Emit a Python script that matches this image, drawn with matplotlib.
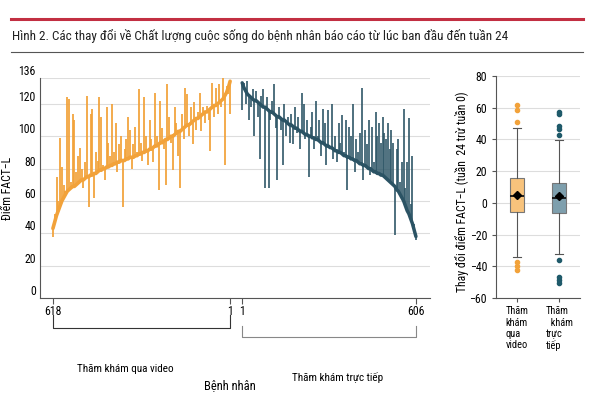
import numpy as np
import matplotlib.pyplot as plt
from matplotlib import font_manager
from matplotlib.lines import Line2D

# pick a condensed face if one is installed, else plain Liberation Sans
avail = {f.name for f in font_manager.fontManager.ttflist}
narrow = next((n for n in ['Liberation Sans Narrow', 'Roboto Condensed', 'Open Sans Condensed']
               if n in avail), None)
plt.rcParams['font.family'] = [narrow or 'Liberation Sans', 'DejaVu Sans']
k = 1.0 if narrow else 0.82   # shrink text a bit when no narrow face

# FACT-L scores, patients sorted by baseline (sampled along each group)
video_base = [43, 47, 51, 54, 57, 60, 62, 64, 66, 67,
              68, 69, 69, 70, 71, 72, 73, 73, 74, 75,
              75, 76, 76, 77, 77, 78, 79, 79, 80, 80,
              81, 81, 82, 82, 83, 83, 84, 84, 85, 85,
              85, 86, 86, 87, 87, 87, 88, 88, 89, 89,
              90, 90, 91, 91, 92, 92, 93, 94, 94, 95,
              96, 96, 97, 98, 98, 99, 100, 100, 101, 102,
              103, 103, 104, 105, 106, 107, 107, 108, 109, 110,
              111, 111, 112, 113, 114, 115, 115, 116, 117, 118,
              119, 119, 120, 121, 122, 123, 125, 127, 130, 134]
video_wk24 = [38, 52, 75, 60, 99, 81, 70, 66, 124, 123,
              72, 114, 110, 78, 88, 93, 80, 68, 84, 125,
              56, 114, 117, 62, 90, 85, 124, 112, 82, 73,
              118, 96, 88, 120, 90, 108, 78, 95, 100, 56,
              92, 98, 112, 104, 80, 95, 106, 90, 129, 96,
              85, 124, 100, 82, 110, 98, 84, 127, 100, 67,
              122, 105, 92, 70, 132, 112, 96, 79, 118, 108,
              88, 68, 114, 98, 130, 126, 100, 118, 95, 121,
              104, 115, 127, 103, 118, 108, 119, 110, 91, 133,
              112, 130, 114, 132, 118, 136, 82, 131, 126, 114]

direct_base = [133, 130, 128, 126, 125, 124, 123, 122, 122, 121,
               120, 119, 118, 118, 117, 116, 115, 115, 114, 113,
               112, 112, 111, 110, 110, 109, 108, 107, 107, 106,
               105, 105, 104, 103, 103, 102, 101, 101, 100, 100,
               99, 99, 98, 98, 97, 96, 96, 95, 94, 94,
               93, 93, 92, 91, 91, 90, 90, 89, 88, 88,
               87, 87, 86, 86, 85, 85, 84, 83, 83, 82,
               82, 81, 80, 80, 79, 78, 78, 77, 77, 76,
               76, 75, 74, 73, 72, 71, 70, 69, 67, 66,
               64, 62, 60, 57, 54, 52, 49, 46, 42, 38]
direct_wk24 = [116, 133, 120, 134, 110, 118, 129, 100, 128, 112,
               86, 125, 129, 68, 124, 68, 110, 122, 132, 105,
               73, 118, 104, 82, 120, 100, 112, 96, 114, 95,
               118, 102, 112, 92, 127, 120, 98, 110, 75, 106,
               115, 92, 122, 100, 110, 88, 117, 108, 82, 116,
               94, 120, 86, 100, 84, 108, 96, 113, 90, 110,
               67, 106, 100, 120, 78, 98, 90, 102, 130, 73,
               104, 95, 110, 76, 106, 84, 115, 100, 108, 96,
               112, 102, 98, 108, 92, 104, 96, 39, 92, 98,
               72, 84, 117, 68, 84, 111, 58, 88, 46, 36]

x_ticklabels = ['618', '1', '1', '606']

# change from week 0 to week 24 (box summary)
box_labels = ['Thăm\nkhám\nqua\nvideo', 'Thăm\n  khám\ntrực\ntiếp']
box_q1 = [-5.5, -6.5]
box_med = [4.3, 2.8]
box_q3 = [15.8, 12.5]
box_lo = [-34, -32]
box_hi = [47, 39.5]
box_mean = [5, 4.3]
video_fliers = [62, 58.5, 51, -37, -40, -42.5]
direct_fliers = [57.5, 56, 48.3, 46.5, 42.7, -36, -46.5, -48.5, -50.5]

orange = '#F2A23A'
teal = '#2B5364'

fig = plt.figure(figsize=(6, 4), dpi=100)

# header lines and title
fig.add_artist(Line2D([11/600, 583/600], [1 - 19/400] * 2, color='#C22F42', lw=2.2))
fig.add_artist(Line2D([11/600, 583/600], [1 - 52/400] * 2, color='#555555', lw=0.8))
fig.text(12/600, 1 - 36/400, 'Hình 2. Các thay đổi về Chất lượng cuộc sống do bệnh nhân báo cáo từ lúc ban đầu đến tuần 24',
         fontsize=9.5 * k, va='center', ha='left', color='#222222')

# ---- left panel: per-patient scores ----
ax = fig.add_axes([40/600, 1 - 298/400, 390/600, 220/400])
xv = np.linspace(0, 617, len(video_base))
xd = 659 + np.linspace(0, 605, len(direct_base))

ax.vlines(xv, video_base, video_wk24, color=orange, lw=1.4, alpha=0.9)
ax.plot(xv, video_base, color=orange, lw=2.6, solid_capstyle='round')
ax.vlines(xd, direct_base, direct_wk24, color='#2F5767', lw=1.4, alpha=0.85)
ax.plot(xd, direct_base, color=teal, lw=2.5, solid_capstyle='round')

ax.set_xlim(-45, 1313)
ax.set_ylim(0, 136)
ax.set_yticks([0, 20, 40, 60, 80, 100, 120, 136])
ax.set_xticks([0, 617, 659, 1264])
ax.set_xticklabels(x_ticklabels)
ax.yaxis.grid(True, color='#DDDDDD', lw=0.8)
ax.set_axisbelow(True)
for s in ['top', 'right']:
    ax.spines[s].set_visible(False)
for s in ['left', 'bottom']:
    ax.spines[s].set_color('#555555')
    ax.spines[s].set_linewidth(0.8)
ax.tick_params(axis='y', length=0, labelsize=8.5 * k, pad=3)
ax.tick_params(axis='x', length=4, labelsize=8.5 * k, color='#555555', pad=1)
for lab in ax.get_yticklabels():
    lab.set_va('bottom')
ax.set_ylabel('Điểm FACT−L', fontsize=8.5 * k)
ax.yaxis.set_label_coords(-0.067, 0.5)

# brackets under the x axis
tr = ax.get_xaxis_transform()
ax.plot([0, 0, 617, 617], [-0.077, -0.136, -0.136, -0.077], color='#333333', lw=0.8,
        transform=tr, clip_on=False)
ax.plot([659, 659, 1264, 1264], [-0.127, -0.177, -0.177, -0.127], color='#888888', lw=0.8,
        transform=tr, clip_on=False)
fig.text(125/600, 1 - 369/400, 'Thăm khám qua video', fontsize=8 * k, ha='center', va='center')
fig.text(230/600, 1 - 386/400, 'Bệnh nhân', fontsize=9 * k, ha='center', va='center')
fig.text(338/600, 1 - 378/400, 'Thăm khám trực tiếp', fontsize=8 * k, ha='center', va='center')

# ---- right panel: box plots of change ----
bx = fig.add_axes([496/600, 1 - 298/400, 84/600, 222/400])
stats = []
for i, fl in enumerate([video_fliers, direct_fliers]):
    stats.append(dict(med=box_med[i], q1=box_q1[i], q3=box_q3[i], whislo=box_lo[i],
                      whishi=box_hi[i], mean=box_mean[i], fliers=fl, label=box_labels[i]))
bp = bx.bxp(stats, positions=[1, 2], widths=0.34, patch_artist=True, showmeans=True,
            boxprops=dict(edgecolor='#777777', lw=0.8),
            whiskerprops=dict(color='#555555', lw=0.8),
            capprops=dict(color='#555555', lw=0.8),
            medianprops=dict(color='#111111', lw=1.3),
            meanprops=dict(marker='D', markerfacecolor='black', markeredgecolor='black', markersize=4))
for patch, fc in zip(bp['boxes'], ['#F8C37C', '#7E9FAD']):
    patch.set_facecolor(fc)
for fl, c in zip(bp['fliers'], [orange, '#1F5A6A']):
    fl.set(marker='o', markerfacecolor=c, markeredgecolor=c, markersize=3)

bx.set_xlim(0.5, 2.5)
bx.set_ylim(-60, 80)
bx.set_yticks(range(-60, 81, 20))
bx.yaxis.grid(True, color='#DDDDDD', lw=0.8)
bx.set_axisbelow(True)
for s in ['top', 'right']:
    bx.spines[s].set_visible(False)
for s in ['left', 'bottom']:
    bx.spines[s].set_color('#555555')
    bx.spines[s].set_linewidth(0.8)
bx.tick_params(axis='y', length=3, labelsize=8.5 * k, color='#555555')
bx.tick_params(axis='x', length=3, labelsize=7.5 * k, color='#555555', pad=3)
for lab in bx.get_xticklabels():
    lab.set_ha('center')
    lab.set_multialignment('left')
    lab.set_linespacing(1.15)
bx.set_ylabel('Thay đổi điểm FACT−L (tuần  24 trừ tuần 0)', fontsize=8.5 * k)
bx.yaxis.set_label_coords(-0.32, 0.48)

fig.savefig('out.png', dpi=100)
